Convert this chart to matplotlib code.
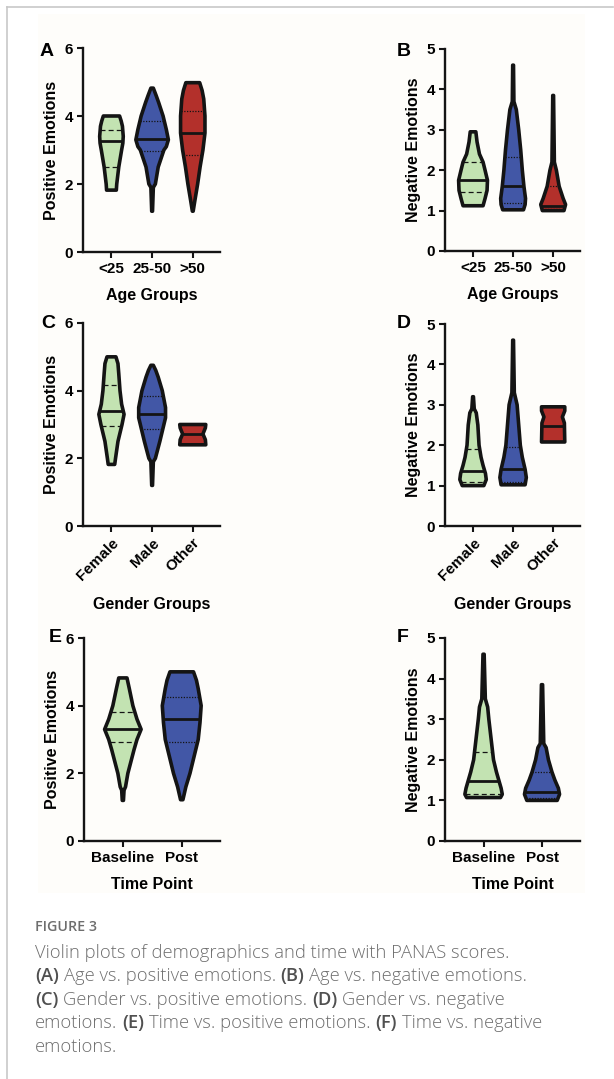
import numpy as np
import matplotlib
matplotlib.use('Agg')
import matplotlib.pyplot as plt
from matplotlib.patches import Rectangle

plt.rcParams['font.family'] = ['Liberation Sans', 'DejaVu Sans']
plt.rcParams['font.weight'] = 'bold'
plt.rcParams['axes.labelweight'] = 'bold'

# categories
age_groups = ['<25', '25-50', '>50']
gender_groups = ['Female', 'Male', 'Other']
time_points = ['Baseline', 'Post']

# violin outlines: (score, half width), top to bottom
a_profiles = [
    [(4.0, .20), (3.85, .24), (3.7, .27), (3.4, .29), (3.2, .28), (3.0, .25), (2.5, .18),
     (2.0, .13), (1.82, .12)],
    [(4.82, .03), (4.6, .10), (4.4, .16), (4.0, .27), (3.6, .35), (3.3, .40), (3.1, .35),
     (3.0, .29), (2.5, .15), (2.0, .08), (1.9, .03), (1.2, .01)],
    [(4.98, .17), (4.75, .23), (4.5, .27), (4.0, .30), (3.5, .30), (3.0, .25), (2.5, .18),
     (2.0, .12), (1.5, .05), (1.2, .01)],
]
a_medians = [3.27, 3.33, 3.50]
a_quartiles = [(2.51, 3.59), (2.98, 3.85), (2.85, 4.15)]

b_profiles = [
    [(2.95, .07), (2.7, .10), (2.4, .16), (2.2, .25), (2.0, .30), (1.75, .36), (1.5, .35),
     (1.3, .30), (1.12, .25)],
    [(4.6, .01), (3.7, .02), (3.5, .08), (3.0, .14), (2.5, .19), (2.0, .23), (1.6, .27),
     (1.3, .31), (1.15, .30), (1.02, .26)],
    [(3.85, .01), (2.2, .03), (2.0, .08), (1.6, .15), (1.3, .25), (1.15, .31), (1.0, .27)],
]
b_medians = [1.76, 1.62, 1.12]
b_quartiles = [(1.45, 2.20), (1.18, 2.32), (1.04, 1.60)]

c_profiles = [
    [(5.0, .11), (4.8, .16), (4.5, .18), (4.0, .21), (3.6, .25), (3.3, .31), (3.0, .26),
     (2.5, .16), (2.0, .10), (1.82, .08)],
    [(4.75, .03), (4.6, .09), (4.4, .15), (4.0, .25), (3.5, .33), (3.2, .33), (3.0, .29),
     (2.5, .19), (2.0, .08), (1.9, .03), (1.2, .01)],
    [(3.0, .32), (2.9, .31), (2.72, .25), (2.55, .31), (2.4, .32)],
]
c_medians = [3.41, 3.32, 2.72]
c_quartiles = [(2.96, 4.16), (2.87, 3.83), ()]

d_profiles = [
    [(3.2, .01), (2.9, .03), (2.8, .08), (2.5, .12), (2.0, .15), (1.7, .20), (1.5, .25),
     (1.3, .31), (1.15, .33), (1.0, .27)],
    [(4.6, .01), (3.3, .03), (3.0, .10), (2.5, .14), (2.0, .18), (1.7, .23), (1.4, .30),
     (1.2, .33), (1.02, .30)],
    [(2.95, .29), (2.85, .29), (2.7, .23), (2.55, .28), (2.08, .29)],
]
d_medians = [1.35, 1.40, 2.48]
d_quartiles = [(1.08, 1.90), (1.10, 1.95), ()]

e_profiles = [
    [(4.82, .07), (4.5, .11), (4.0, .17), (3.6, .24), (3.3, .31), (3.0, .24), (2.7, .19),
     (2.5, .16), (2.0, .085), (1.6, .045), (1.5, .02), (1.2, .01)],
    [(5.0, .20), (4.75, .25), (4.5, .28), (4.0, .33), (3.5, .31), (3.0, .28), (2.5, .21),
     (2.0, .14), (1.6, .07), (1.22, .02)],
]
e_medians = [3.32, 3.60]
e_quartiles = [(2.92, 3.80), (2.92, 4.25)]

f_profiles = [
    [(4.6, .01), (3.5, .03), (3.3, .07), (3.0, .09), (2.5, .13), (2.0, .17), (1.7, .22),
     (1.5, .26), (1.3, .30), (1.15, .32), (1.07, .29)],
    [(3.85, .01), (2.4, .03), (2.3, .07), (2.0, .11), (1.7, .17), (1.5, .22), (1.3, .28),
     (1.15, .30), (1.0, .26)],
]
f_medians = [1.48, 1.20]
f_quartiles = [(1.15, 2.18), (1.05, 1.70)]

GREEN = '#c3e3b2'
BLUE = '#4257a6'
RED = '#b3302b'
INK = '#141414'

W, H = 614, 1079
fig = plt.figure(figsize=(W / 100, H / 100), dpi=100)


def px_axes(left, top, right, bottom):
    return fig.add_axes([left / W, 1 - bottom / H, (right - left) / W, (bottom - top) / H])


def draw_violin(ax, x, prof, color, med, quarts, qstyle):
    ys = np.array([p[0] for p in prof])
    hw = np.array([p[1] for p in prof])
    xs = np.concatenate([x + hw, (x - hw)[::-1]])
    yy = np.concatenate([ys, ys[::-1]])
    ax.fill(xs, yy, facecolor=color, edgecolor=INK, lw=2.6, joinstyle='round', zorder=3)
    for q in quarts:
        w = np.interp(q, ys[::-1], hw[::-1])
        ax.plot([x - w, x + w], [q, q], color=INK, lw=0.9, ls=qstyle, zorder=4)
    w = np.interp(med, ys[::-1], hw[::-1])
    ax.plot([x - w, x + w], [med, med], color=INK, lw=2.0, zorder=4, solid_capstyle='butt')


def panel(box, letter, letter_xy, labels, profiles, medians, quartiles, ymax, ylabel, xlabel,
          rotate=False, xlim=(-0.7, 2.67)):
    ax = px_axes(*box)
    colors = [GREEN, BLUE, RED]
    styles = [(0, (4, 2.5)), (0, (1, 1.2)), (0, (1, 1.2))]
    for i, prof in enumerate(profiles):
        draw_violin(ax, i, prof, colors[i], medians[i], quartiles[i], styles[i])
    ax.set_xlim(*xlim)
    ax.set_ylim(0, ymax)
    ax.set_yticks(np.arange(0, ymax + 1, 2 if ymax == 6 else 1))
    ax.set_xticks(range(len(labels)))
    if rotate:
        ax.set_xticklabels(labels, rotation=45, ha='right', rotation_mode='anchor')
    else:
        ax.set_xticklabels(labels)
    for s in ['top', 'right']:
        ax.spines[s].set_visible(False)
    for s in ['left', 'bottom']:
        ax.spines[s].set_linewidth(1.7)
        ax.spines[s].set_color(INK)
    ax.tick_params(length=4, width=1.5, color=INK, labelsize=11, pad=3)
    ax.patch.set_alpha(0)
    ax.set_ylabel(ylabel, fontsize=11.5, labelpad=4)
    ax.set_xlabel(xlabel, fontsize=11.5, labelpad=10 if rotate else 9)
    fig.text(letter_xy[0] / W, 1 - letter_xy[1] / H, letter, fontsize=14,
             ha='center', va='center')
    return ax


# page frame and slightly tinted figure area
fig.patches.append(Rectangle((38 / W, 1 - 893 / H), 547 / W, 879 / H, transform=fig.transFigure,
                             facecolor='#fefdfa', edgecolor='none', zorder=-10))
fig.add_artist(plt.Line2D([7 / W, 7 / W], [0, 1 - 7 / H], color='#c8c8c8', lw=1.2))
fig.add_artist(plt.Line2D([7 / W, 613 / W], [1 - 7 / H, 1 - 7 / H], color='#c8c8c8', lw=1.2))

panel((83, 48, 220, 252), 'A', (47, 52), age_groups, a_profiles, a_medians, a_quartiles,
      6, 'Positive Emotions', 'Age Groups')
panel((445, 49, 580, 251), 'B', (404, 52), age_groups, b_profiles, b_medians, b_quartiles,
      5, 'Negative Emotions', 'Age Groups')
panel((83, 323, 220, 526), 'C', (48, 323), gender_groups, c_profiles, c_medians, c_quartiles,
      6, 'Positive Emotions', 'Gender Groups', rotate=True)
panel((445, 324, 580, 526), 'D', (404, 324), gender_groups, d_profiles, d_medians, d_quartiles,
      5, 'Negative Emotions', 'Gender Groups', rotate=True)
panel((84, 638, 220, 841), 'E', (55, 638), time_points, e_profiles, e_medians, e_quartiles,
      6, 'Positive Emotions', 'Time Point', xlim=(-0.66, 1.65))
panel((445, 638, 580, 841), 'F', (403, 638), time_points, f_profiles, f_medians, f_quartiles,
      5, 'Negative Emotions', 'Time Point', xlim=(-0.66, 1.65))

# caption
CAP = '#6e6e6e'
fig.text(35 / W, 1 - 927 / H, 'FIGURE 3', family='Open Sans', weight='semibold',
         fontsize=10.3, color=CAP, va='center')

caption = [
    [('Violin plots of demographics and time with PANAS scores.', False)],
    [('(A)', True), ('Age vs. positive emotions.', False), ('(B)', True),
     ('Age vs. negative emotions.', False)],
    [('(C)', True), ('Gender vs. positive emotions.', False), ('(D)', True),
     ('Gender vs. negative', False)],
    [('emotions.', False), ('(E)', True), ('Time vs. positive emotions.', False), ('(F)', True),
     ('Time vs. negative', False)],
    [('emotions.', False)],
]
renderer = fig.canvas.get_renderer()
cap_size = 13.2
probe1 = fig.text(0, 0, 'a a', family='Open Sans', fontsize=cap_size)
probe2 = fig.text(0, 0, 'aa', family='Open Sans', fontsize=cap_size)
space = probe1.get_window_extent(renderer).width - probe2.get_window_extent(renderer).width
probe1.remove()
probe2.remove()

for row, segments in enumerate(caption):
    y = 953 + row * 23.4
    x = 35
    for text, bold in segments:
        t = fig.text(x / W, 1 - y / H, text, family='Open Sans', fontsize=cap_size,
                     weight='semibold' if bold else 'light', color='#505050' if bold else CAP,
                     va='center')
        x += t.get_window_extent(renderer).width + space

fig.savefig('out.png', dpi=100)
